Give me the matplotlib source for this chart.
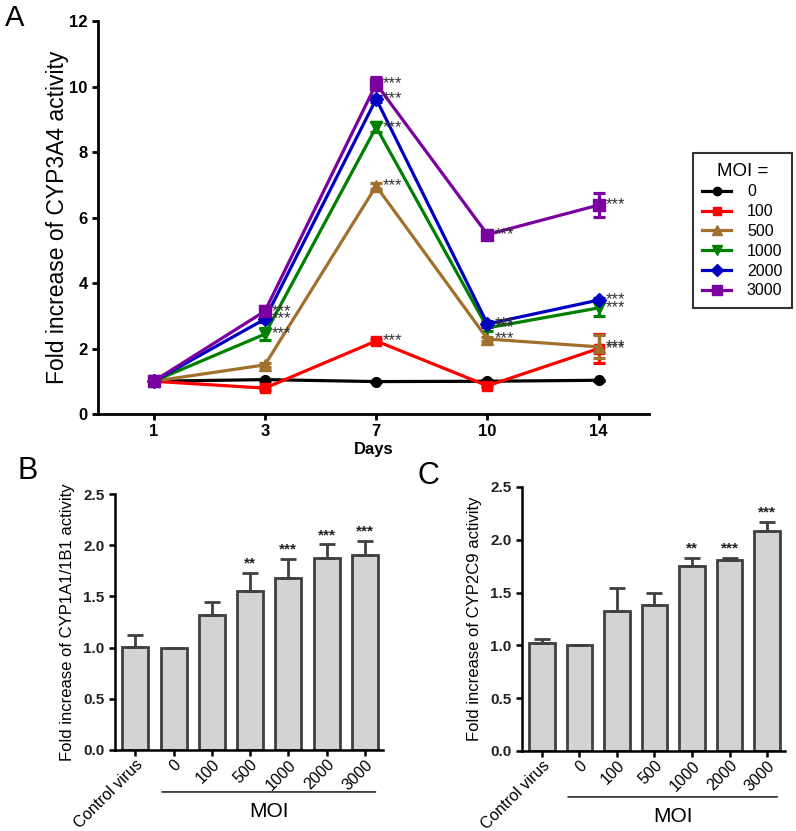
import numpy as np
import matplotlib
matplotlib.use('Agg')
import matplotlib.pyplot as plt
from matplotlib.lines import Line2D

plt.rcParams['font.family'] = ['Liberation Sans', 'DejaVu Sans']

# panel A data
days = ['1', '3', '7', '10', '14']
moi_labels = ['0', '100', '500', '1000', '2000', '3000']
moi0 = [1.0, 1.05, 0.99, 1.0, 1.03]
moi100 = [1.0, 0.79, 2.23, 0.86, 2.0]
moi500 = [1.0, 1.5, 6.96, 2.29, 2.05]
moi1000 = [1.0, 2.44, 8.76, 2.63, 3.24]
moi2000 = [1.0, 2.9, 9.62, 2.75, 3.48]
moi3000 = [1.0, 3.14, 10.08, 5.48, 6.38]
err0 = [0, 0.03, 0.02, 0.03, 0.02]
err100 = [0, 0.05, 0.06, 0.05, 0.45]
err500 = [0, 0.05, 0.08, 0.06, 0.35]
err1000 = [0, 0.18, 0.15, 0.1, 0.25]
err2000 = [0, 0.08, 0.1, 0.08, 0.06]
err3000 = [0, 0.15, 0.2, 0.08, 0.36]
# which days carry "***"
sig0 = [0, 0, 0, 0, 0]
sig100 = [0, 0, 1, 0, 1]
sig500 = [0, 0, 1, 1, 1]
sig1000 = [0, 1, 1, 1, 1]
sig2000 = [0, 1, 1, 1, 1]
sig3000 = [0, 1, 1, 1, 1]

# panels B and C data
groups = ['Control virus', '0', '100', '500', '1000', '2000', '3000']
cyp1a1 = [1.01, 1.0, 1.32, 1.55, 1.68, 1.88, 1.90]
cyp1a1_err = [0.11, 0.0, 0.13, 0.18, 0.19, 0.13, 0.14]
cyp1a1_sig = ['', '', '', '**', '***', '***', '***']
cyp2c9 = [1.02, 1.0, 1.33, 1.38, 1.75, 1.81, 2.08]
cyp2c9_err = [0.04, 0.0, 0.21, 0.12, 0.08, 0.02, 0.09]
cyp2c9_sig = ['', '', '', '', '**', '***', '***']

fig = plt.figure(figsize=(7.96, 8.31), dpi=100)

# ---- panel A
ax = fig.add_axes([0.1231, 0.5018, 0.692, 0.4729])
series = [moi0, moi100, moi500, moi1000, moi2000, moi3000]
errs = [err0, err100, err500, err1000, err2000, err3000]
sigs = [sig0, sig100, sig500, sig1000, sig2000, sig3000]
colors = ['black', '#ff0000', '#a0702c', '#008000', '#0000c0', '#7a00a0']
markers = ['o', 's', '^', 'v', 'D', 's']
msizes = [7, 7, 8, 8, 7, 8]
x = np.arange(len(days))
handles = []
for y, e, s, c, m, ms, lab in zip(series, errs, sigs, colors, markers, msizes, moi_labels):
    ax.errorbar(x, y, yerr=e, color=c, marker=m, ms=ms, lw=2.3, capsize=4,
                capthick=2.3, elinewidth=2.3)
    handles.append(Line2D([], [], color=c, marker=m, ms=ms - 1, lw=2.3, label=lab))
    for xi, yi, si in zip(x, y, s):
        if si:
            ax.annotate('***', (xi, yi), xytext=(5, 0), textcoords='offset points',
                        fontsize=12, color='#333333', va='center', ha='left')
ax.set_xlim(-0.5, 4.45)
ax.set_ylim(0, 12)
ax.set_xticks(x)
ax.set_xticklabels(days, fontweight='bold', fontsize=12)
ax.set_yticks(np.arange(0, 13, 2))
ax.set_yticklabels([str(v) for v in range(0, 13, 2)], fontweight='bold', fontsize=12)
ax.set_xlabel('Days', fontweight='bold', fontsize=12, labelpad=2)
ax.set_ylabel('Fold increase of CYP3A4 activity', fontsize=16.5, labelpad=0)
for sp in ['top', 'right']:
    ax.spines[sp].set_visible(False)
for sp in ['left', 'bottom']:
    ax.spines[sp].set_linewidth(2)
ax.tick_params(width=2, length=4)
leg = ax.legend(handles=handles, title='MOI =', loc='upper right',
                bbox_to_anchor=(792 / 796, 1 - 153 / 831),
                bbox_transform=fig.transFigure, fontsize=11.5, title_fontsize=13.5,
                frameon=True, fancybox=False, edgecolor='black', handlelength=1.8,
                borderpad=0.6, labelspacing=0.3, handletextpad=1.0, borderaxespad=0)
leg.get_frame().set_linewidth(1.5)
fig.text(0.006, 0.978, 'A', fontsize=21, va='center')


def bar_panel(rect, vals, errs, sigs, ylabel, line_y, letter, letter_xy):
    ax = fig.add_axes(rect)
    xb = np.arange(len(groups))
    ax.bar(xb, vals, width=0.68, color='#d3d3d3', edgecolor='#404040', linewidth=2)
    ax.errorbar(xb, vals, yerr=[np.zeros(len(vals)), errs], fmt='none',
                ecolor='#404040', elinewidth=2, capsize=6, capthick=2)
    for xi, v, e, s in zip(xb, vals, errs, sigs):
        if s:
            ax.text(xi, v + e + 0.09, s, ha='center', va='center', fontsize=11,
                    fontweight='bold', color='#222222')
    ax.set_xlim(-0.53, 6.47)
    ax.set_ylim(0, 2.5)
    ax.set_yticks(np.arange(0, 2.6, 0.5))
    ax.set_yticklabels(['%.1f' % v for v in np.arange(0, 2.6, 0.5)],
                       fontweight='bold', fontsize=11, color='#222222')
    ax.set_xticks(xb)
    ax.set_xticklabels(groups, rotation=45, ha='right', rotation_mode='anchor',
                       fontsize=11.5)
    ax.tick_params(axis='x', pad=1)
    ax.set_ylabel(ylabel, fontsize=12, labelpad=6)
    for sp in ['top', 'right']:
        ax.spines[sp].set_visible(False)
    for sp in ['left', 'bottom']:
        ax.spines[sp].set_linewidth(1.8)
    ax.tick_params(width=1.8, length=4)
    # MOI bracket under the tick labels
    ax.annotate('', xy=(0.62, line_y), xytext=(6.35, line_y),
                xycoords=('data', 'axes fraction'),
                arrowprops=dict(arrowstyle='-', lw=1, color='black'))
    ax.text(3.5, line_y - 0.04, 'MOI', transform=ax.get_xaxis_transform(),
            ha='center', va='top', fontsize=15)
    fig.text(letter_xy[0], letter_xy[1], letter, fontsize=22, va='center')
    return ax


bar_panel([0.1445, 0.0975, 0.3367, 0.308], cyp1a1, cyp1a1_err, cyp1a1_sig,
          'Fold increase of CYP1A1/1B1 activity', -0.164, 'B', (0.0226, 0.433))
bar_panel([0.6558, 0.0963, 0.330, 0.3177], cyp2c9, cyp2c9_err, cyp2c9_sig,
          'Fold increase of CYP2C9 activity', -0.174, 'C', (0.525, 0.427))

fig.savefig('out.png', dpi=100)
